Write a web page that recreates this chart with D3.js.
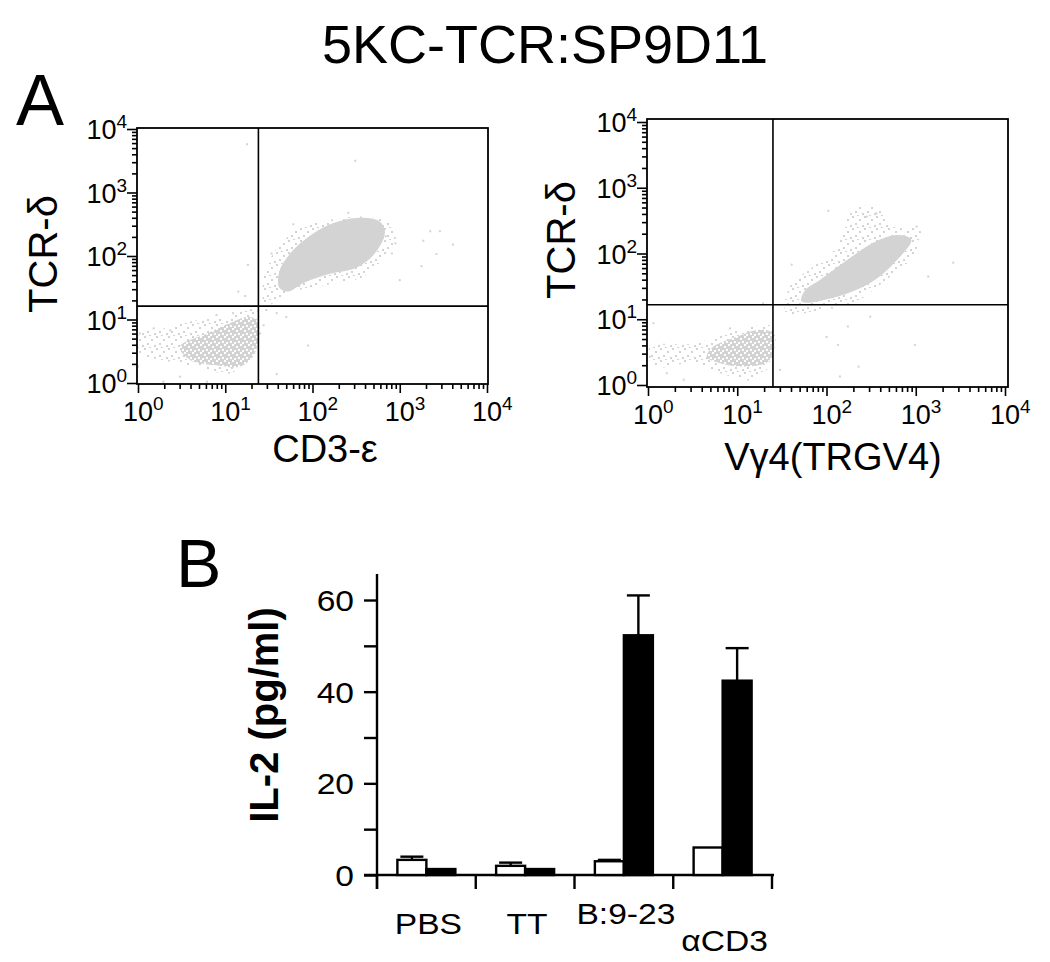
<!DOCTYPE html>
<html><head><meta charset="utf-8">
<script src="https://cdn.jsdelivr.net/npm/d3@7"></script>
<style>body{margin:0;background:#fff} text{font-family:"Liberation Sans",Arial,Helvetica,sans-serif;fill:#000}</style>
</head><body><svg id="c" width="1050" height="962"></svg>
<script>
// ---------- DATA ----------
const titleText = "5KC-TCR:SP9D11";
const decadeExps = [0, 1, 2, 3, 4];          // log tick exponents (10^0 .. 10^4)
const minorMult = [2, 3, 4, 5, 6, 7, 8, 9];

// Plot 1 (TCR-δ vs CD3-ε), coordinates in log10 units
const p1UpperHalo = [[1.46,1.20],[1.70,1.41],[2.05,1.52],[2.58,1.67],[2.81,1.94],[2.96,2.36],[2.85,2.54],[2.58,2.62],[2.20,2.57],[1.82,2.41],[1.55,2.04],[1.44,1.67]];
const p1UpperCore = [[1.62,1.50],[1.72,1.44],[1.90,1.58],[2.20,1.72],[2.51,1.82],[2.72,2.05],[2.83,2.38],[2.76,2.55],[2.51,2.60],[2.24,2.52],[1.97,2.32],[1.75,2.05],[1.62,1.76]];
const p1LowerHalo = [[0.02,0.79],[0.29,0.86],[0.67,0.99],[1.02,1.04],[1.21,1.15],[1.36,1.15],[1.38,0.73],[1.25,0.36],[1.05,0.15],[0.67,0.26],[0.29,0.36],[0.02,0.47]];
const p1LowerCore = [[0.48,0.57],[0.79,0.78],[1.05,0.94],[1.25,1.04],[1.36,0.99],[1.34,0.47],[1.17,0.26],[0.90,0.28],[0.60,0.36]];
const p1Outliers = [[1.25,3.76],[2.49,3.50],[2.41,2.68],[1.78,2.50],[3.35,2.39],[3.46,2.39],[3.61,2.18],[3.42,2.03],[3.25,1.84],[3.00,1.62],[2.95,2.20],[2.91,2.04],[3.27,2.24],[1.26,1.86],[1.15,1.44],[1.23,1.37],[1.53,2.04],[1.95,0.59],[1.59,0.14],[1.47,1.15],[1.59,1.10],[1.70,1.04],[1.44,0.91],[1.40,0.78],[0.00,0.26],[0.29,0.02],[0.48,0.10],[0.79,0.02],[0.02,0.78],[0.18,0.86],[0.37,0.83],[0.90,1.07],[1.09,1.10],[1.32,1.10],[1.78,2.02],[2.81,2.38],[2.84,2.31]];
const p1Gate = [1.38, 1.21];

// Plot 2 (TCR-δ vs Vγ4)
const p2UpperHalo = [[1.55,1.09],[1.93,1.14],[2.30,1.24],[2.67,1.60],[2.94,1.90],[3.05,2.36],[2.75,2.41],[2.60,2.71],[2.30,2.66],[2.11,2.10],[1.85,1.80],[1.59,1.50]];
const p2UpperCore = [[1.72,1.27],[2.11,1.34],[2.49,1.55],[2.79,1.90],[2.95,2.21],[2.79,2.28],[2.52,2.16],[2.23,1.90],[1.93,1.60],[1.76,1.44]];
const p2LowerHalo = [[0.02,0.58],[0.51,0.63],[0.88,0.79],[1.18,0.89],[1.39,0.89],[1.40,0.38],[1.18,0.08],[0.81,0.18],[0.51,0.33],[0.06,0.28]];
const p2LowerCore = [[0.73,0.58],[0.99,0.73],[1.25,0.84],[1.39,0.79],[1.37,0.38],[1.11,0.28],[0.81,0.33],[0.66,0.43]];
const p2Outliers = [[2.02,2.65],[3.42,1.86],[3.14,1.65],[1.61,1.83],[2.99,0.61],[2.36,0.28],[2.15,0.13],[2.00,0.73],[2.13,0.61],[2.24,0.89],[2.49,1.04],[1.48,0.23],[1.29,1.24],[0.06,0.94],[0.02,0.43],[0.21,0.18],[0.40,0.08],[0.92,0.86],[3.01,2.41],[2.45,2.56],[2.56,2.61]];
const p2Gate = [1.40, 1.22];

// Bar chart (IL-2 pg/ml)
const groups = ["PBS", "TT", "B:9-23", "αCD3"];
const whiteVals = [3.3, 2.0, 3.0, 6.0];
const whiteErr  = [0.7, 0.7, 0.3, 0];
const blackVals = [1.3, 1.3, 52.3, 42.4];
const blackErr  = [0, 0, 8.7, 7.1];
const barTicks = [0, 10, 20, 30, 40, 50, 60];
const barTickLabels = [0, 20, 40, 60];

// ---------- DRAW ----------
const GRAY = "#d3d3d3";
const svg = d3.select("#c");
const defs = svg.append("defs");

function pattern(id, size, bg, cells, cellColor) {
  const p = defs.append("pattern").attr("id", id).attr("patternUnits", "userSpaceOnUse")
    .attr("width", size).attr("height", size);
  if (bg) p.append("rect").attr("width", size).attr("height", size).attr("fill", bg);
  cells.forEach(c => p.append("rect").attr("x", c[0]).attr("y", c[1]).attr("width", 2).attr("height", 2).attr("fill", cellColor));
}
pattern("sparse", 12, null, [[0,0],[7,3],[3,7],[10,9],[5,11]], GRAY);
pattern("dense", 8, GRAY, [[0,0],[4,2],[2,6],[6,5]], "#fff");

svg.append("text").attr("x", 545).attr("y", 63).attr("text-anchor", "middle")
  .attr("font-size", 54).text(titleText);
svg.append("text").attr("x", 16).attr("y", 125).attr("font-size", 72).text("A");
svg.append("text").attr("x", 176).attr("y", 587).attr("font-size", 68).text("B");

function logLabel(g, x, y, exp, anchor) {
  const t = g.append("text").attr("x", x).attr("y", y).attr("text-anchor", anchor).attr("font-size", 27);
  t.append("tspan").text("10");
  t.append("tspan").attr("font-size", 19).attr("dy", -11).text(exp);
  return t;
}

function flowPlot(cfg) {
  const x = d3.scaleLog().domain([1, 1e4]).range(cfg.xr);
  const y = d3.scaleLog().domain([1, 1e4]).range(cfg.yr);
  const X = v => x(Math.pow(10, v)), Y = v => y(Math.pow(10, v));
  const g = svg.append("g");
  const clipId = "clip" + cfg.id;
  defs.append("clipPath").attr("id", clipId).append("rect")
    .attr("x", cfg.frame[0]).attr("y", cfg.frame[1])
    .attr("width", cfg.frame[2] - cfg.frame[0]).attr("height", cfg.frame[3] - cfg.frame[1]);
  const inner = g.append("g").attr("clip-path", `url(#${clipId})`);
  const line = d3.line().x(d => X(d[0])).y(d => Y(d[1])).curve(d3.curveCatmullRomClosed);
  inner.append("path").datum(cfg.lowerHalo).attr("d", line).attr("fill", "url(#sparse)");
  inner.append("path").datum(cfg.lowerCore).attr("d", line).attr("fill", "url(#dense)");
  inner.append("path").datum(cfg.upperHalo).attr("d", line).attr("fill", "url(#sparse)");
  inner.append("path").datum(cfg.upperCore).attr("d", line).attr("fill", GRAY);
  inner.selectAll("rect.o").data(cfg.outliers).join("rect").attr("class", "o")
    .attr("x", d => X(d[0]) - 1).attr("y", d => Y(d[1]) - 1).attr("width", 2).attr("height", 2).attr("fill", GRAY);

  // gate lines
  g.append("line").attr("x1", X(cfg.gate[0])).attr("x2", X(cfg.gate[0]))
    .attr("y1", cfg.frame[1]).attr("y2", cfg.frame[3]).attr("stroke", "#000").attr("stroke-width", 1.6);
  g.append("line").attr("y1", Y(cfg.gate[1])).attr("y2", Y(cfg.gate[1]))
    .attr("x1", cfg.frame[0]).attr("x2", cfg.frame[2]).attr("stroke", "#000").attr("stroke-width", 1.6);
  // frame
  g.append("rect").attr("x", cfg.frame[0]).attr("y", cfg.frame[1])
    .attr("width", cfg.frame[2] - cfg.frame[0]).attr("height", cfg.frame[3] - cfg.frame[1])
    .attr("fill", "none").attr("stroke", "#000").attr("stroke-width", 1.8);

  const majors = decadeExps.map(e => Math.pow(10, e));
  const minors = [];
  decadeExps.slice(0, -1).forEach(e => minorMult.forEach(m => minors.push(m * Math.pow(10, e))));

  const yAxisG = g.append("g").attr("transform", `translate(${cfg.frame[0]},0)`);
  yAxisG.append("g").call(d3.axisLeft(y).tickValues(minors).tickSize(5).tickFormat(""));
  yAxisG.append("g").call(d3.axisLeft(y).tickValues(majors).tickSize(10).tickFormat(""));
  const xAxisG = g.append("g").attr("transform", `translate(0,${cfg.frame[3]})`);
  xAxisG.append("g").call(d3.axisBottom(x).tickValues(minors).tickSize(5).tickFormat(""));
  xAxisG.append("g").call(d3.axisBottom(x).tickValues(majors).tickSize(9).tickFormat(""));
  g.selectAll(".domain").remove();
  g.selectAll(".tick line").attr("stroke", "#000").attr("stroke-width", 1.6);

  decadeExps.forEach(e => {
    logLabel(g, cfg.frame[0] - 10, Y(e) + 10, e, "end");
    logLabel(g, X(e) - 15, cfg.frame[3] + 37, e, "start");
  });

  g.append("text").attr("x", cfg.xTitlePos[0]).attr("y", cfg.xTitlePos[1])
    .attr("text-anchor", "middle").attr("font-size", 38).text(cfg.xTitle);
  g.append("text").attr("transform", `translate(${cfg.yTitlePos[0]},${cfg.yTitlePos[1]}) rotate(-90)`)
    .attr("text-anchor", "middle").attr("font-size", 40).text("TCR-δ");
}

flowPlot({ id: 1, xr: [138, 487], yr: [383, 129], frame: [137, 128, 488, 384],
  lowerHalo: p1LowerHalo, lowerCore: p1LowerCore, upperHalo: p1UpperHalo, upperCore: p1UpperCore,
  outliers: p1Outliers, gate: p1Gate, xTitle: "CD3-ε", xTitlePos: [325, 462], yTitlePos: [57, 254] });
flowPlot({ id: 2, xr: [648, 1005], yr: [385, 122], frame: [647, 119, 1008, 387],
  lowerHalo: p2LowerHalo, lowerCore: p2LowerCore, upperHalo: p2UpperHalo, upperCore: p2UpperCore,
  outliers: p2Outliers, gate: p2Gate, xTitle: "Vγ4(TRGV4)", xTitlePos: [833, 470], yTitlePos: [575, 240] });

// ---------- Bar chart ----------
const bx = d3.scaleBand().domain(groups).range([377, 772]).padding(0);
const by = d3.scaleLinear().domain([0, 60]).range([875, 600]);
const barW = 29;
const bg = svg.append("g");
const sx = 1.12;

// axes
bg.append("line").attr("x1", 377).attr("x2", 377).attr("y1", 574).attr("y2", 889).attr("stroke", "#000").attr("stroke-width", 2.4);
bg.append("line").attr("x1", 364).attr("x2", 774).attr("y1", by(0)).attr("y2", by(0)).attr("stroke", "#000").attr("stroke-width", 2.4);
const yAx = bg.append("g").attr("transform", "translate(377,0)")
  .call(d3.axisLeft(by).tickValues(barTicks).tickSize(13).tickFormat(""));
yAx.select(".domain").remove();
yAx.selectAll(".tick line").attr("stroke", "#000").attr("stroke-width", 2.4);
const bounds = groups.map(gname => bx(gname)).concat([bx.range()[1]]);
bg.selectAll("line.gt").data(bounds).join("line").attr("class", "gt")
  .attr("x1", d => d).attr("x2", d => d).attr("y1", by(0)).attr("y2", by(0) + 14)
  .attr("stroke", "#000").attr("stroke-width", 2.4);
barTickLabels.forEach(v => {
  bg.append("text").attr("transform", `translate(354,${by(v) + 11}) scale(${sx},1)`)
    .attr("text-anchor", "end").attr("font-size", 30).text(v);
});

// bars
const center = gname => bx(gname) + bx.bandwidth() / 2;
function errBar(xc, v, e) {
  if (e <= 0) return;
  bg.append("line").attr("x1", xc).attr("x2", xc).attr("y1", by(v)).attr("y2", by(v + e)).attr("stroke", "#000").attr("stroke-width", 2.4);
  bg.append("line").attr("x1", xc - 11.5).attr("x2", xc + 11.5).attr("y1", by(v + e)).attr("y2", by(v + e)).attr("stroke", "#000").attr("stroke-width", 2.4);
}
groups.forEach((gname, i) => {
  const c = center(gname);
  errBar(c - barW / 2, whiteVals[i], whiteErr[i]);
  errBar(c + barW / 2, blackVals[i], blackErr[i]);
  bg.append("rect").attr("x", c - barW).attr("y", by(whiteVals[i])).attr("width", barW)
    .attr("height", by(0) - by(whiteVals[i])).attr("fill", "#fff").attr("stroke", "#000").attr("stroke-width", 2.4);
  bg.append("rect").attr("x", c).attr("y", by(blackVals[i])).attr("width", barW)
    .attr("height", by(0) - by(blackVals[i])).attr("fill", "#000").attr("stroke", "#000").attr("stroke-width", 2.4);
});

// category labels (staggered as in the original)
const labelDy = [59, 59, 49, 76];
groups.forEach((gname, i) => {
  bg.append("text").attr("transform", `translate(${center(gname) + 2},${by(0) + labelDy[i]}) scale(${sx},1)`)
    .attr("text-anchor", "middle").attr("font-size", 30).text(gname);
});

bg.append("text").attr("transform", "translate(278,715) rotate(-90)")
  .attr("text-anchor", "middle").attr("font-size", 40).attr("font-weight", "bold").text("IL-2 (pg/ml)");
</script></body></html>
